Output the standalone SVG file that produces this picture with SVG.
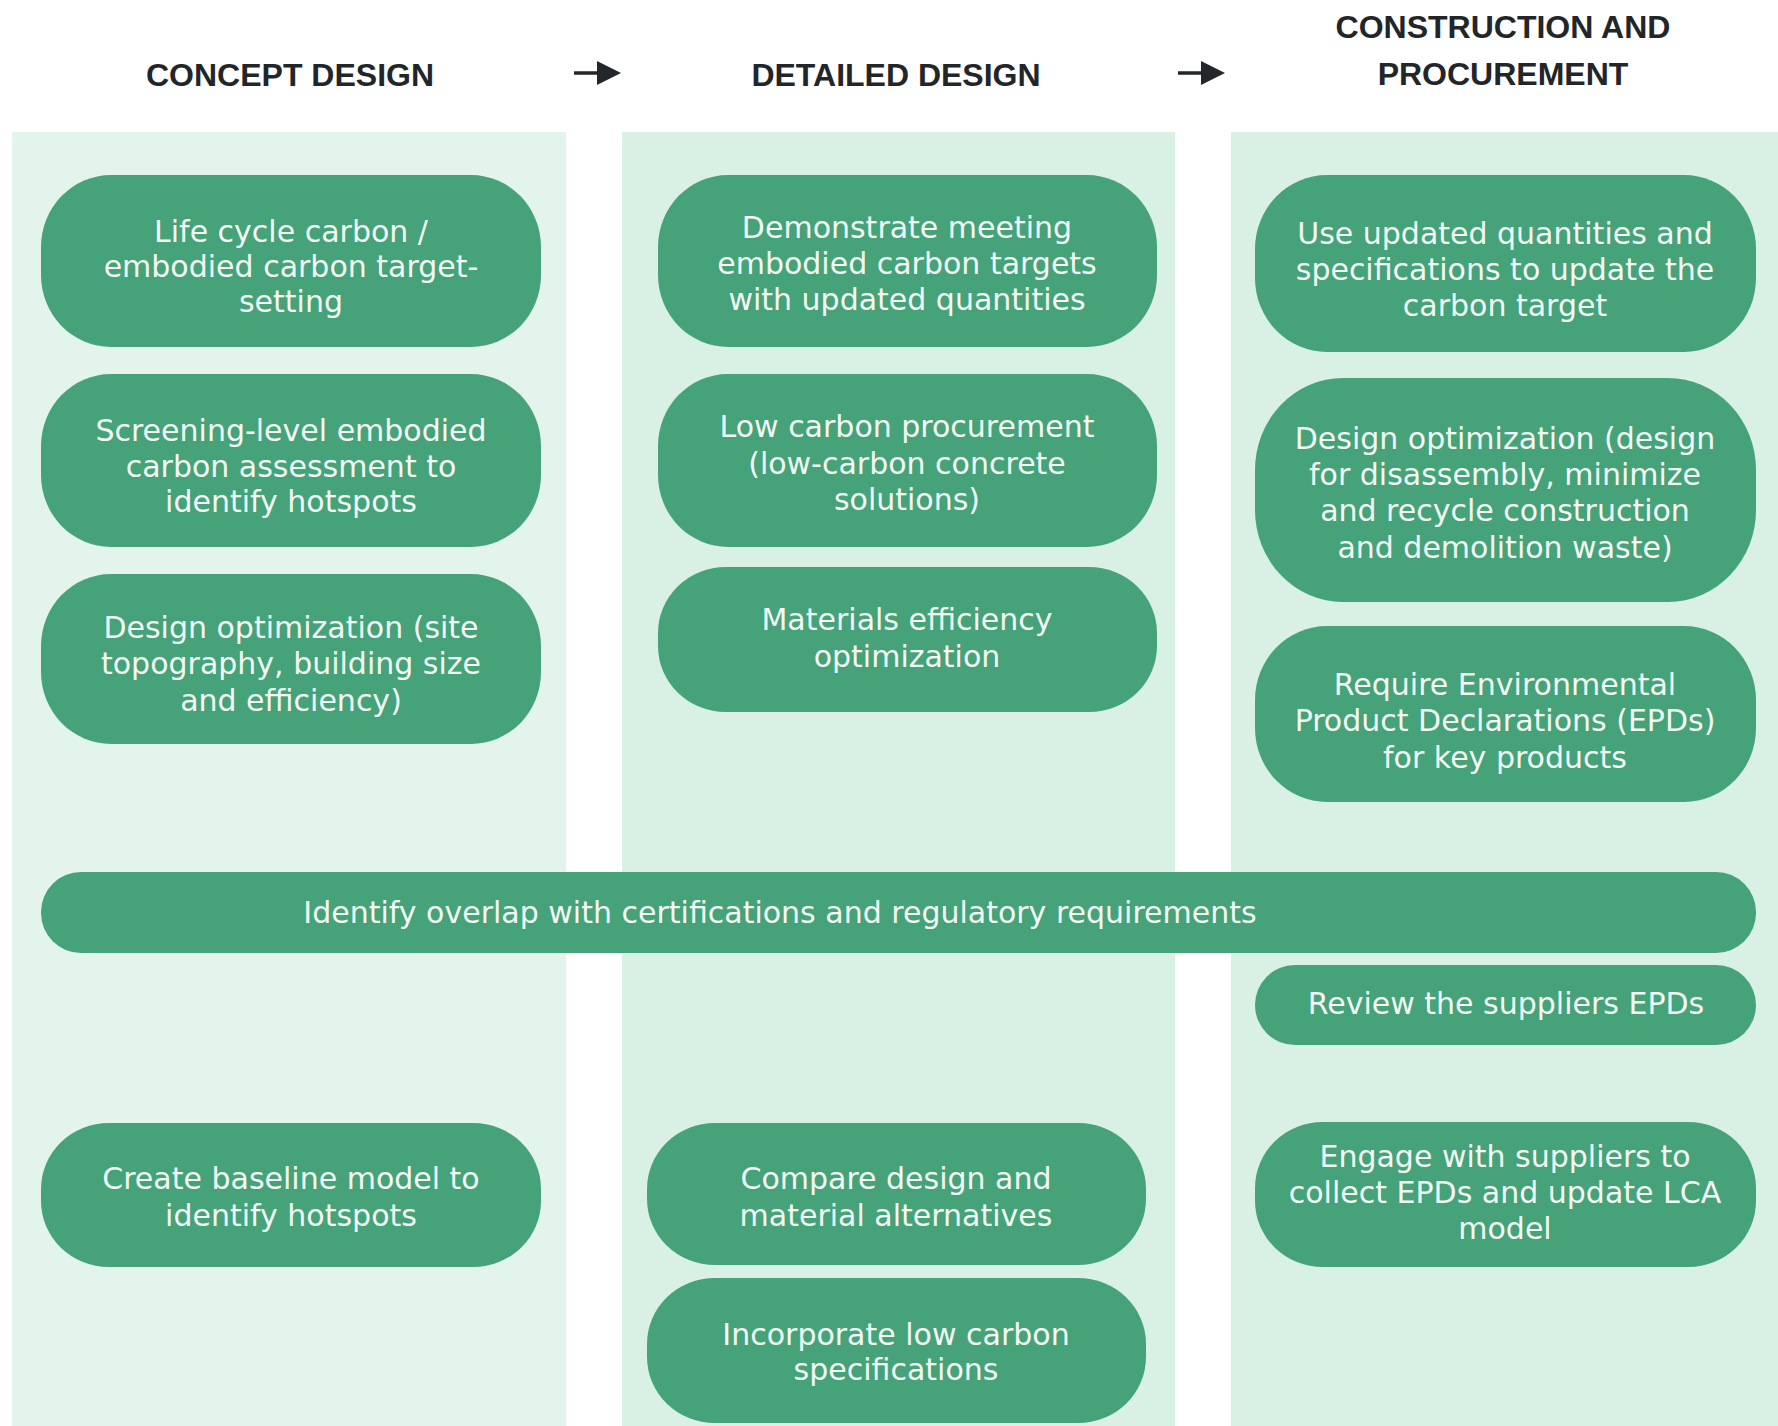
<svg xmlns="http://www.w3.org/2000/svg" width="1778" height="1426" viewBox="0 0 1778 1426">
<defs>
<style>
.hdr{font-family:"Liberation Sans",Arial,sans-serif;font-weight:bold;font-size:32px;fill:#222629;text-anchor:middle}
.node{fill:#45a279}
.lbl{font-family:"DejaVu Sans","Noto Sans",sans-serif;font-size:30px;fill:#f3f9f5;text-anchor:middle}
.arr{stroke:#23272b;stroke-width:3.5;fill:none}
.head{fill:#23272b}
</style>
</defs>
<rect width="1778" height="1426" fill="#ffffff"/>
<g id="columns">
<rect x="12" y="132" width="554" height="1294" fill="#e3f4ec"/>
<rect x="622" y="132" width="553" height="1294" fill="#d9f0e5"/>
<rect x="1231" y="132" width="547" height="1294" fill="#d9f0e5"/>
</g>
<g id="headers">
<text class="hdr" x="290" y="86">CONCEPT DESIGN</text>
<text class="hdr" x="896" y="86">DETAILED DESIGN</text>
<text class="hdr" x="1503" y="38">CONSTRUCTION AND</text>
<text class="hdr" x="1503" y="85">PROCUREMENT</text>
</g>
<g id="connectors">
<line class="arr" x1="574" y1="73" x2="600" y2="73"/>
<polygon class="head" points="597,61 621,73 597,85"/>
<line class="arr" x1="1178" y1="73" x2="1204" y2="73"/>
<polygon class="head" points="1201,61 1225,73 1201,85"/>
</g>
<g id="n1"><rect class="node" x="41" y="175" width="500" height="172" rx="70" ry="72"/>
<text class="lbl"><tspan x="291" y="242">Life cycle carbon /</tspan><tspan x="291" y="277">embodied carbon target-</tspan><tspan x="291" y="312">setting</tspan></text></g>
<g id="n2"><rect class="node" x="41" y="374" width="500" height="173" rx="70" ry="72"/>
<text class="lbl"><tspan x="291" y="441">Screening-level embodied</tspan><tspan x="291" y="477">carbon assessment to</tspan><tspan x="291" y="512">identify hotspots</tspan></text></g>
<g id="n3"><rect class="node" x="41" y="574" width="500" height="170" rx="70" ry="72"/>
<text class="lbl"><tspan x="291" y="638">Design optimization (site</tspan><tspan x="291" y="674">topography, building size</tspan><tspan x="291" y="711">and efficiency)</tspan></text></g>
<g id="n4"><rect class="node" x="41" y="1123" width="500" height="144" rx="68" ry="66"/>
<text class="lbl"><tspan x="291" y="1189">Create baseline model to</tspan><tspan x="291" y="1226">identify hotspots</tspan></text></g>
<g id="m1"><rect class="node" x="658" y="175" width="499" height="172" rx="70" ry="72"/>
<text class="lbl"><tspan x="907" y="238">Demonstrate meeting</tspan><tspan x="907" y="274">embodied carbon targets</tspan><tspan x="907" y="310">with updated quantities</tspan></text></g>
<g id="m2"><rect class="node" x="658" y="374" width="499" height="173" rx="70" ry="72"/>
<text class="lbl"><tspan x="907" y="437">Low carbon procurement</tspan><tspan x="907" y="474">(low-carbon concrete</tspan><tspan x="907" y="510">solutions)</tspan></text></g>
<g id="m3"><rect class="node" x="658" y="567" width="499" height="145" rx="68" ry="66"/>
<text class="lbl"><tspan x="907" y="630">Materials efficiency</tspan><tspan x="907" y="667">optimization</tspan></text></g>
<g id="m4"><rect class="node" x="647" y="1123" width="499" height="142" rx="68" ry="66"/>
<text class="lbl"><tspan x="896" y="1189">Compare design and</tspan><tspan x="896" y="1226">material alternatives</tspan></text></g>
<g id="m5"><rect class="node" x="647" y="1278" width="499" height="145" rx="68" ry="66"/>
<text class="lbl"><tspan x="896" y="1345">Incorporate low carbon</tspan><tspan x="896" y="1380">specifications</tspan></text></g>
<g id="p1"><rect class="node" x="1255" y="175" width="501" height="177" rx="72" ry="74"/>
<text class="lbl"><tspan x="1505" y="244">Use updated quantities and</tspan><tspan x="1505" y="280">specifications to update the</tspan><tspan x="1505" y="316">carbon target</tspan></text></g>
<g id="p2"><rect class="node" x="1255" y="378" width="501" height="224" rx="88" ry="92"/>
<text class="lbl"><tspan x="1505" y="449">Design optimization (design</tspan><tspan x="1505" y="485">for disassembly, minimize</tspan><tspan x="1505" y="521">and recycle construction</tspan><tspan x="1505" y="558">and demolition waste)</tspan></text></g>
<g id="p3"><rect class="node" x="1255" y="626" width="501" height="176" rx="72" ry="74"/>
<text class="lbl"><tspan x="1505" y="695">Require Environmental</tspan><tspan x="1505" y="731">Product Declarations (EPDs)</tspan><tspan x="1505" y="768">for key products</tspan></text></g>
<g id="bar"><rect class="node" x="41" y="872" width="1715" height="81" rx="40" ry="40"/>
<text class="lbl" x="780" y="923">Identify overlap with certifications and regulatory requirements</text></g>
<g id="p4"><rect class="node" x="1255" y="965" width="501" height="80" rx="40" ry="40"/>
<text class="lbl" x="1506" y="1014">Review the suppliers EPDs</text></g>
<g id="p5"><rect class="node" x="1255" y="1122" width="501" height="145" rx="68" ry="66"/>
<text class="lbl"><tspan x="1505" y="1167">Engage with suppliers to</tspan><tspan x="1505" y="1203">collect EPDs and update LCA</tspan><tspan x="1505" y="1239">model</tspan></text></g>
</svg>
